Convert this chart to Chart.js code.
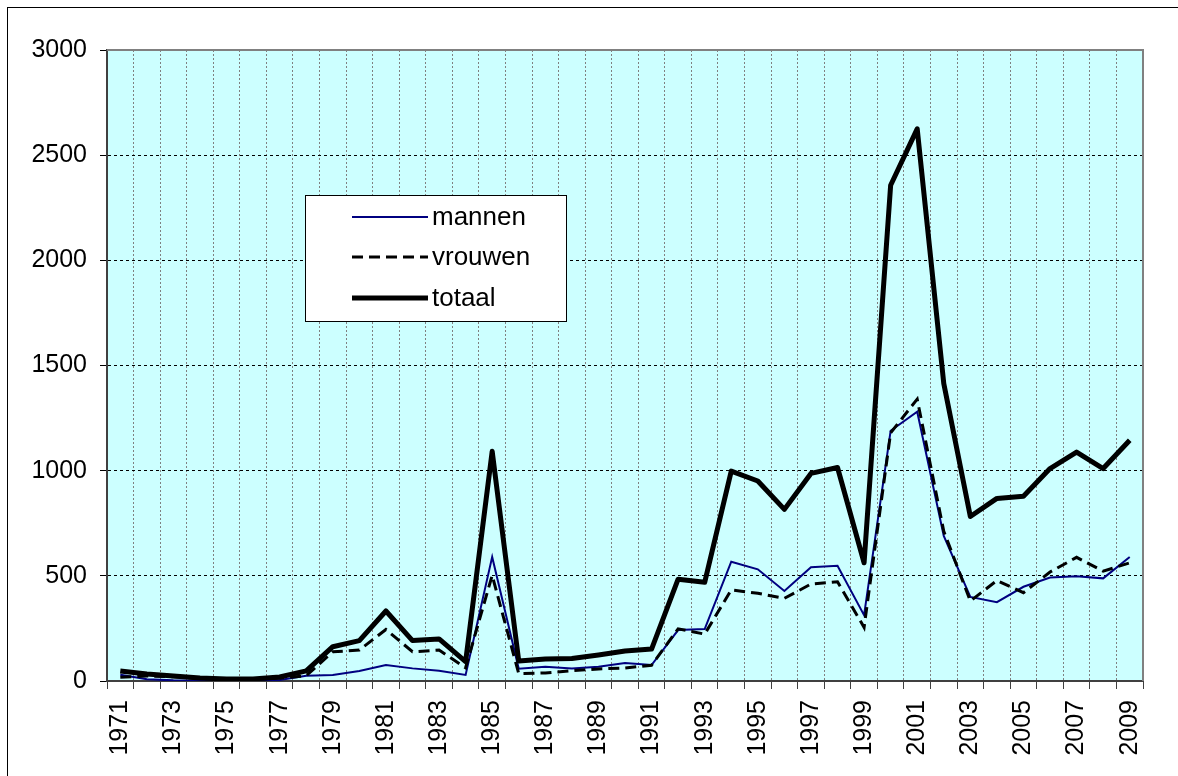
<!DOCTYPE html>
<html>
<head>
<meta charset="utf-8">
<script src="https://cdn.jsdelivr.net/npm/chart.js@4"></script>
<style>
  html, body { margin: 0; padding: 0; background: #fff; }
  #wrap { position: relative; width: 1178px; height: 776px; }
</style>
</head>
<body>
<div id="wrap"><canvas id="chart" width="1178" height="776"></canvas></div>
<script>
const years = ['1971','1972','1973','1974','1975','1976','1977','1978','1979','1980',
  '1981','1982','1983','1984','1985','1986','1987','1988','1989','1990',
  '1991','1992','1993','1994','1995','1996','1997','1998','1999','2000',
  '2001','2002','2003','2004','2005','2006','2007','2008','2009'];

const mannen = [30, 8, 3, 2, 2, 3, 5, 25, 28, 48,
  76, 60, 49, 29, 590, 58, 68, 59, 68, 86,
  76, 242, 247, 567, 531, 428, 541, 548, 313, 1190,
  1280, 690, 400, 375, 448, 492, 498, 488, 590];

const vrouwen = [18, 24, 20, 12, 8, 7, 14, 25, 139, 147,
  245, 139, 147, 63, 502, 35, 38, 49, 57, 62,
  75, 248, 223, 433, 417, 393, 461, 472, 255, 1180,
  1340, 712, 380, 478, 420, 518, 588, 522, 562];

const totaal = [48, 33, 24, 14, 10, 10, 19, 48, 163, 192,
  333, 192, 200, 92, 1092, 95, 105, 107, 124, 143,
  152, 484, 469, 998, 951, 816, 987, 1015, 562, 2357,
  2625, 1414, 782, 868, 878, 1010, 1088, 1010, 1145];

const FONT = '"Liberation Sans", Arial, sans-serif';

// plot background, border, outer frame and the legend box inside the plot
const decor = {
  id: 'decor',
  beforeDraw(chart) {
    const { ctx, chartArea: a } = chart;
    ctx.save();
    ctx.fillStyle = '#ccffff';
    ctx.fillRect(a.left, a.top, a.right - a.left, a.bottom - a.top);
    ctx.restore();
  },
  afterDraw(chart) {
    const { ctx, chartArea: a } = chart;
    ctx.save();
    // grey plot border (top, right)
    ctx.strokeStyle = '#808080';
    ctx.lineWidth = 2;
    ctx.beginPath();
    ctx.moveTo(a.left, a.top);
    ctx.lineTo(a.right, a.top);
    ctx.lineTo(a.right, a.bottom);
    ctx.stroke();
    // outer frame
    ctx.strokeStyle = '#000';
    ctx.lineWidth = 1;
    ctx.strokeRect(7.5, 7.5, 1300, 900);

    // legend
    const bx = 305.5, by = 195.5, bw = 261, bh = 126;
    ctx.fillStyle = '#fff';
    ctx.fillRect(bx, by, bw, bh);
    ctx.strokeStyle = '#000';
    ctx.lineWidth = 1;
    ctx.strokeRect(bx, by, bw, bh);
    const rows = [217, 257, 298];
    chart.data.datasets.forEach((ds, i) => {
      const y = rows[i];
      ctx.save();
      ctx.strokeStyle = ds.borderColor;
      ctx.lineWidth = ds.borderWidth;
      ctx.setLineDash(ds.borderDash || []);
      ctx.lineCap = 'butt';
      ctx.beginPath();
      ctx.moveTo(352, y);
      ctx.lineTo(428, y);
      ctx.stroke();
      ctx.restore();
      ctx.fillStyle = '#000';
      ctx.font = '26px ' + FONT;
      ctx.textBaseline = 'middle';
      ctx.fillText(ds.label, 432, y + 1);
    });
    ctx.restore();
  }
};

new Chart(document.getElementById('chart'), {
  type: 'line',
  data: {
    labels: years,
    datasets: [
      {
        label: 'mannen',
        data: mannen,
        borderColor: '#000080',
        borderWidth: 2,
        pointRadius: 0,
        tension: 0,
        order: 3
      },
      {
        label: 'vrouwen',
        data: vrouwen,
        borderColor: '#000',
        borderWidth: 3,
        borderDash: [11, 6],
        pointRadius: 0,
        tension: 0,
        order: 2
      },
      {
        label: 'totaal',
        data: totaal,
        borderColor: '#000',
        borderWidth: 5,
        pointRadius: 0,
        tension: 0,
        borderJoinStyle: 'round',
        order: 1
      }
    ]
  },
  options: {
    responsive: false,
    animation: false,
    layout: { padding: { top: 50, right: 35, left: 0, bottom: 0 } },
    plugins: {
      legend: { display: false },
      tooltip: { enabled: false }
    },
    scales: {
      x: {
        offset: true,
        afterFit: (s) => { s.height = 95; },
        grid: {
          offset: true,
          color: '#808080',
          lineWidth: 1,
          tickLength: 8,
          tickColor: '#404040',
          tickBorderDash: []
        },
        border: { color: '#404040', width: 2, dash: [2, 2] },
        ticks: {
          autoSkip: false,
          minRotation: 90,
          maxRotation: 90,
          padding: 11,
          color: '#000',
          font: { family: FONT, size: 25 },
          callback: (v, i) => (i % 2 === 0 ? years[i] : '')
        }
      },
      y: {
        min: 0,
        max: 3000,
        afterFit: (s) => { s.width = 107; },
        grid: {
          color: '#000',
          lineWidth: 1,
          tickLength: 7,
          tickColor: '#000',
          tickBorderDash: []
        },
        border: { color: '#404040', width: 2, dash: [3, 3] },
        ticks: {
          stepSize: 500,
          padding: 13,
          color: '#000',
          font: { family: FONT, size: 25 },
          callback: (v) => String(v)
        }
      }
    }
  },
  plugins: [decor]
});
</script>
</body>
</html>
